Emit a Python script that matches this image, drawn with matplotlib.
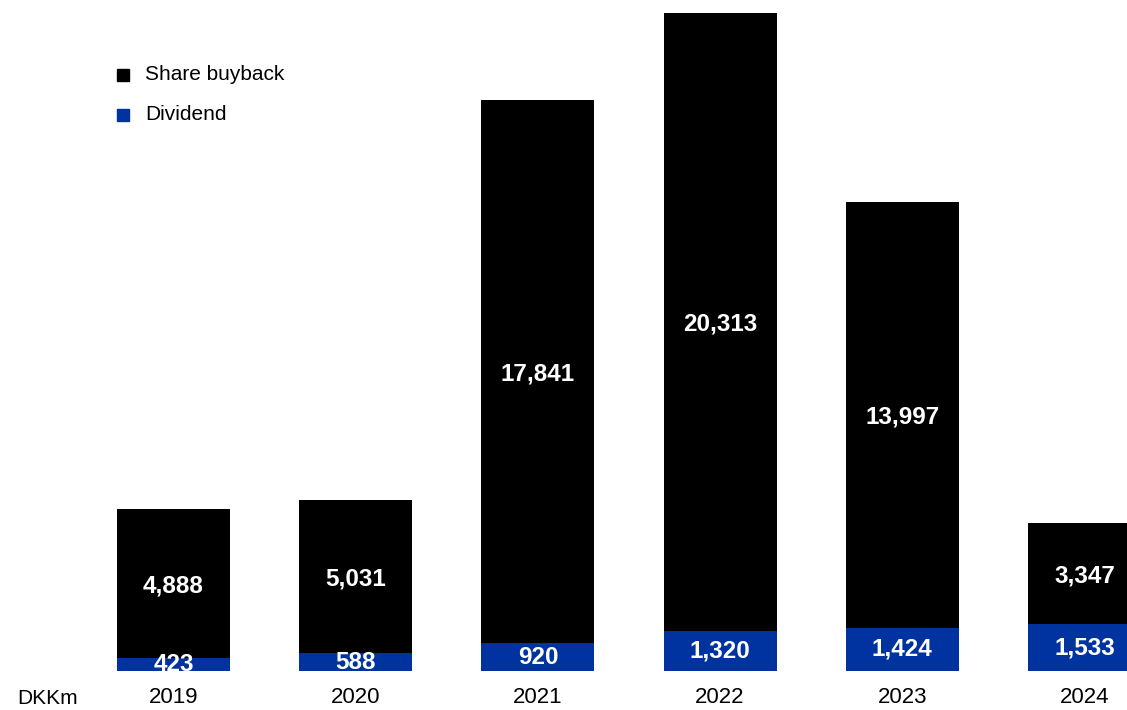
import matplotlib.pyplot as plt
from matplotlib.lines import Line2D

plt.rcParams['font.family'] = ['Liberation Sans', 'DejaVu Sans']

years = ['2019', '2020', '2021', '2022', '2023', '2024']
dividend = [423, 588, 920, 1320, 1424, 1533]
buyback = [4888, 5031, 17841, 20313, 13997, 3347]

blue = '#0033a0'

fig = plt.figure(figsize=(11.27, 7.10), dpi=100)
ax = fig.add_axes([0, 39 / 710, 1, 671 / 710])

x = range(len(years))
ax.bar(x, dividend, width=0.62, color=blue)
ax.bar(x, buyback, width=0.62, bottom=dividend, color='black')

for i in x:
    ax.text(i, dividend[i] / 2, f'{dividend[i]:,}', color='white', fontsize=17.5,
            fontweight='bold', ha='center', va='center')
    ax.text(i, dividend[i] + buyback[i] / 2, f'{buyback[i]:,}', color='white',
            fontsize=17.5, fontweight='bold', ha='center', va='center_baseline')
    ax.text(i, -880, years[i], fontsize=16, ha='center', va='center')

ax.text(-0.69, -900, 'DKKm', fontsize=15, ha='center', va='center')

ax.set_xlim(-173.5 / 182.2, (1127 - 173.5) / 182.2)
ax.set_ylim(0, 21633 * 671 / 658)
ax.axis('off')

# legend drawn by hand to match spacing
for lab, col, ypx in [('Share buyback', 'black', 75), ('Dividend', blue, 115)]:
    yf = 1 - ypx / 710
    fig.add_artist(Line2D([122.5 / 1127], [yf], marker='s', color=col,
                          markersize=8, linestyle='none'))
    fig.text(145 / 1127, yf, lab, fontsize=15, va='center')

plt.savefig('out.png')
